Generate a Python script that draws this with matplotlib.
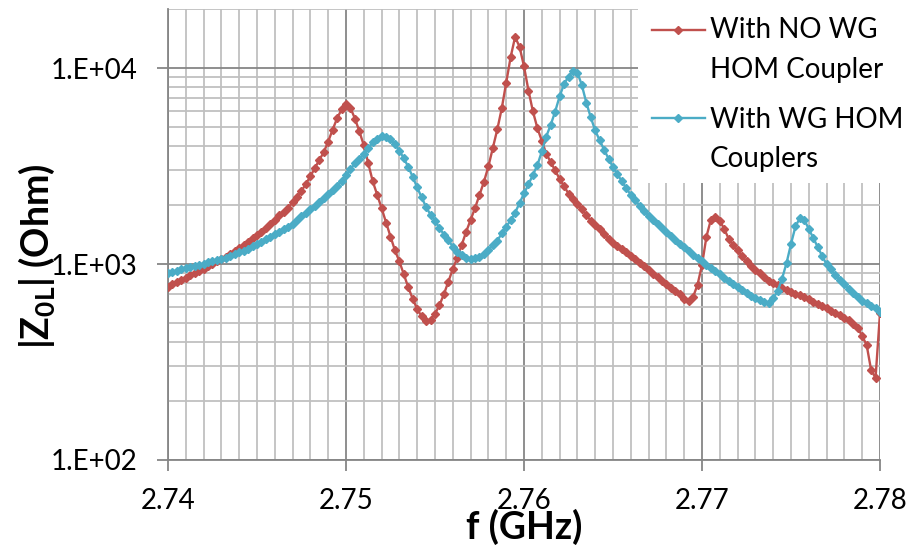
import numpy as np
import matplotlib
matplotlib.use("Agg")
import matplotlib.pyplot as plt
from matplotlib.ticker import MultipleLocator, LogLocator, FuncFormatter, NullFormatter
from matplotlib.lines import Line2D
from matplotlib.patches import Rectangle

plt.rcParams['font.family'] = ['Lato', 'DejaVu Sans']
plt.rcParams['mathtext.fontset'] = 'custom'
plt.rcParams['mathtext.rm'] = 'Lato'
plt.rcParams['mathtext.bf'] = 'Lato:bold'

# frequency sweep (GHz)
freq = np.linspace(2.74, 2.78, 161)

# |Z0L| without WG HOM coupler (Ohm)
z_no_wg = [763, 786, 809, 829, 852, 878, 901, 923, 947, 973,
           1001, 1031, 1060, 1092, 1131, 1170, 1211, 1252, 1299, 1352,
           1406, 1462, 1521, 1600, 1681, 1768, 1842, 1933, 2064, 2197,
           2360, 2566, 2805, 3089, 3393, 3719, 4217, 4850, 5533, 6142,
           6551, 6251, 5525, 4754, 4032, 3257, 2645, 2255, 1926, 1628,
           1380, 1173, 1030, 884, 759, 663, 589, 540, 509, 520,
           557, 616, 702, 812, 943, 1076, 1250, 1460, 1677, 1931,
           2255, 2627, 3148, 3907, 4861, 6222, 8385, 11380, 14400, 12830,
           10190, 7677, 6013, 4943, 4242, 3654, 3311, 3003, 2719, 2491,
           2287, 2143, 2021, 1904, 1778, 1661, 1578, 1501, 1421, 1349,
           1286, 1241, 1194, 1151, 1101, 1055, 1011, 977, 937, 894,
           858, 821, 788, 757, 728, 699, 659, 648, 679, 785,
           988, 1380, 1685, 1737, 1661, 1510, 1343, 1249, 1172, 1099,
           1030, 977, 936, 898, 859, 823, 797, 777, 757, 737,
           720, 707, 695, 677, 660, 643, 626, 610, 594, 579,
           564, 549, 533, 516, 495, 472, 429, 386, 288, 262,
           562]

# |Z0L| with WG HOM couplers (Ohm)
z_wg = [897, 910, 924, 938, 953, 966, 980, 993, 1005, 1018,
        1031, 1044, 1058, 1073, 1097, 1121, 1146, 1170, 1199, 1231,
        1265, 1298, 1334, 1375, 1418, 1462, 1509, 1541, 1591, 1679,
        1760, 1829, 1902, 1986, 2079, 2177, 2276, 2377, 2503, 2661,
        2831, 3039, 3261, 3434, 3620, 3889, 4168, 4368, 4499, 4457,
        4327, 4080, 3781, 3462, 3126, 2779, 2457, 2185, 1954, 1784,
        1658, 1526, 1414, 1324, 1225, 1154, 1106, 1076, 1058, 1067,
        1087, 1126, 1183, 1244, 1315, 1431, 1551, 1669, 1827, 2047,
        2290, 2548, 2851, 3189, 3750, 4472, 5126, 5993, 7164, 8288,
        9029, 9654, 9484, 8171, 6661, 5604, 4799, 4276, 3830, 3446,
        3118, 2865, 2645, 2431, 2255, 2113, 1982, 1864, 1766, 1677,
        1594, 1521, 1455, 1385, 1323, 1268, 1215, 1166, 1118, 1073,
        1032, 993, 955, 919, 884, 850, 821, 793, 766, 740,
        714, 690, 667, 653, 639, 632, 667, 728, 843, 1012,
        1265, 1554, 1717, 1677, 1509, 1356, 1220, 1099, 997, 941,
        874, 829, 787, 747, 709, 677, 649, 630, 613, 593,
        572]

labels = [["With NO WG", "HOM Coupler"], ["With WG HOM", "Couplers"]]
red = '#C0504D'
blue = '#4BACC6'
major_grey = '#868686'
minor_grey = '#C0C0C0'

W, H = 906, 546
fig = plt.figure(figsize=(W / 100, H / 100), dpi=100)
ax = fig.add_axes([168 / W, 1 - 460 / H, 712 / W, 451 / H])

ax.plot(freq, z_no_wg, color=red, lw=1.7, marker='D', ms=3.6, zorder=3)
ax.plot(freq, z_wg, color=blue, lw=1.7, marker='D', ms=3.6, zorder=3)

ax.set_yscale('log')
ax.set_xlim(2.74, 2.78)
ax.set_ylim(100, 20000)

ax.xaxis.set_major_locator(MultipleLocator(0.01))
ax.xaxis.set_minor_locator(MultipleLocator(0.001))
ax.xaxis.set_major_formatter(FuncFormatter(lambda v, p: f"{v:.2f}"))
ax.yaxis.set_major_locator(LogLocator(base=10))
ax.yaxis.set_minor_locator(LogLocator(base=10, subs=np.arange(2, 10)))
ax.yaxis.set_major_formatter(FuncFormatter(lambda v, p: f"1.E+{int(round(np.log10(v))):02d}"))
ax.yaxis.set_minor_formatter(NullFormatter())

ax.grid(which='major', color=major_grey, lw=1.3, zorder=1)
ax.grid(which='minor', color=minor_grey, lw=1.3, zorder=0)
ax.set_axisbelow(True)

for s in ['top', 'right']:
    ax.spines[s].set_visible(False)
for s in ['left', 'bottom']:
    ax.spines[s].set_color(major_grey)
    ax.spines[s].set_linewidth(1.3)

ax.tick_params(which='major', direction='out', length=8, width=1.3,
               color=major_grey, labelsize=20, labelcolor='black')
ax.tick_params(axis='y', which='major', pad=14)
ax.tick_params(axis='x', which='major', pad=12)
ax.tick_params(which='minor', length=0)

ax.set_xlabel('f (GHz)', fontsize=27, fontweight='bold', va='baseline')
ax.xaxis.set_label_coords(0.5, (460 - 539) / 451)
ax.set_ylabel(r'|Z$_{\mathbf{0L}}$| (Ohm)', fontsize=27, fontweight='bold')
ax.yaxis.set_label_coords((57 - 168) / 712, (460 - 256) / 451)

# legend box covering the grid in the upper right
fig.add_artist(Rectangle((638 / W, 1 - 183 / H), (W - 638) / W, 183 / H,
                         transform=fig.transFigure, facecolor='white',
                         edgecolor='none', zorder=2))
for col, (l1, l2), ys in [(red, labels[0], (30, 38, 78)),
                          (blue, labels[1], (118, 128, 167))]:
    fig.add_artist(Line2D([652 / W, 705 / W], [1 - ys[0] / H] * 2, color=col,
                          lw=1.7, transform=fig.transFigure, zorder=3))
    fig.add_artist(Line2D([678 / W], [1 - ys[0] / H], color=col, marker='D',
                          ms=3.6, transform=fig.transFigure, zorder=3))
    fig.text(710 / W, 1 - ys[1] / H, l1, fontsize=20, va='baseline', zorder=4)
    fig.text(710 / W, 1 - ys[2] / H, l2, fontsize=20, va='baseline', zorder=4)

fig.savefig('out.png', dpi=100, facecolor='white')
